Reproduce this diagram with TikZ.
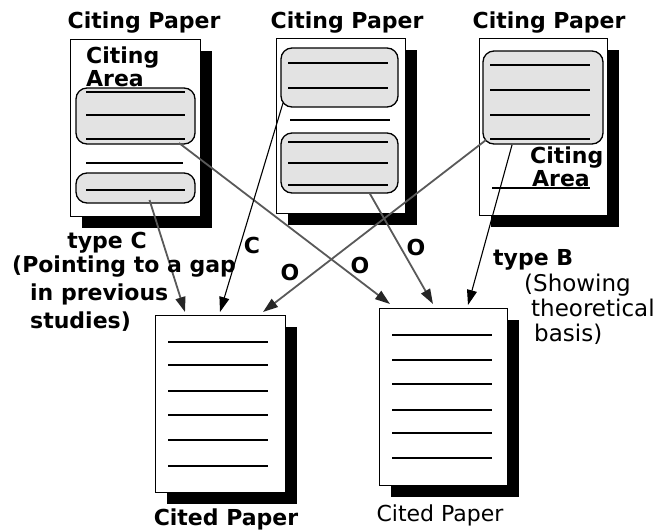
\documentclass[tikz,border=0pt]{standalone}
\usepackage{fontspec}
\setmainfont{DejaVu Sans}
\usetikzlibrary{arrows.meta,shadows}
\begin{document}
\begin{tikzpicture}[x=1pt,y=-1pt,
  paper/.style={draw=black, line width=0.9pt, fill=white, inner sep=0pt, outer sep=0pt,
    general shadow={fill=black, shadow xshift=12pt, shadow yshift=-12pt}},
  cbox/.style={draw=black, line width=1.3pt, fill=gray!22, rounded corners=11pt, inner sep=0pt, outer sep=0pt},
  tl/.style={line width=1.5pt},
  lbl/.style={inner sep=0pt, font=\bfseries\fontsize{22}{26}\selectfont},
  rlbl/.style={inner sep=0pt, font=\fontsize{23}{27}\selectfont},
  garrow/.style={draw=black!65, line width=1.8pt, -{Triangle[length=15pt,width=10pt,color=black!85]}},
  barrow/.style={draw=black, line width=1.1pt, -{Triangle[length=15pt,width=10pt]}},
]
\useasboundingbox (0,0) rectangle (657,531);

% ---------- titles ----------
\node[lbl, anchor=base] (t1) at (144,28) {Citing Paper};
\node[lbl, anchor=base] (t2) at (347,28) {Citing Paper};
\node[lbl, anchor=base] (t3) at (549,28) {Citing Paper};

% ---------- citing paper 1 ----------
\node[paper, minimum width=130pt, minimum height=177pt] (p1) at (135,127.5) {};
\node[lbl, anchor=base west] (p1c) at (86,63) {Citing};
\node[lbl, anchor=base west] (p1a) at (86,86) {Area};
\node[cbox, minimum width=119pt, minimum height=56pt] (b11) at (135.5,116) {};
\draw[tl] (86,92) -- (185,92);
\draw[tl] (86,115) -- (185,115);
\draw[tl] (86,139) -- (185,139);
\draw[tl] (86,163) -- (183,163);
\node[cbox, minimum width=119pt, minimum height=30pt] (b12) at (135.5,188) {};
\draw[tl] (86,190) -- (185,190);

% ---------- citing paper 2 ----------
\node[paper, minimum width=129pt, minimum height=175pt] (p2) at (340.5,125.5) {};
\node[cbox, minimum width=117pt, minimum height=59pt] (b21) at (339.5,77.5) {};
\draw[tl] (288,63) -- (388,63);
\draw[tl] (288,88) -- (388,88);
\draw[tl] (290,120) -- (390,120);
\node[cbox, minimum width=117pt, minimum height=60pt] (b22) at (339.5,163) {};
\draw[tl] (288,142) -- (388,142);
\draw[tl] (288,163) -- (388,163);
\draw[tl] (288,185) -- (388,185);

% ---------- citing paper 3 ----------
\node[paper, minimum width=128pt, minimum height=177pt] (p3) at (543,126.5) {};
\node[cbox, minimum width=120pt, minimum height=93pt] (b31) at (543,97.5) {};
\draw[tl] (490,65) -- (590,65);
\draw[tl] (490,90) -- (590,90);
\draw[tl] (490,115) -- (590,115);
\draw[tl] (490,139) -- (590,139);
\node[lbl, anchor=base west] (p3c) at (530,163) {Citing};
\node[lbl, anchor=base west] (p3a) at (532,186) {Area};
\draw[tl] (492,188) -- (590,188);

% ---------- cited paper 1 ----------
\node[paper, minimum width=130pt, minimum height=177pt] (c1) at (220,403.5) {};
\foreach \yy in {342,365,391,415,440,466} \draw[tl] (168,\yy) -- (268,\yy);
\node[lbl, anchor=base] (c1l) at (226,525) {Cited Paper};

% ---------- cited paper 2 ----------
\node[paper, minimum width=128pt, minimum height=177pt] (c2) at (443,396.5) {};
\foreach \yy in {335,360,384,410,433,458} \draw[tl] (392,\yy) -- (492,\yy);
\node[inner sep=0pt, font=\fontsize{22}{26}\selectfont, anchor=base] (c2l) at (440,521) {Cited Paper};

% ---------- connector end points ----------
\coordinate (sa) at ([shift={(14,-3)}]b12.south);
\coordinate (sb) at ([shift={(2,-4)}]b21.south west);
\coordinate (sc) at ([shift={(3,-4)}]b31.south west);
\coordinate (sd) at ([shift={(-16,-1)}]b11.south east);
\coordinate (se) at ([shift={(30,0)}]b22.south);
\coordinate (sf) at ([shift={(-31,1)}]b31.south);
\coordinate (ea) at ([shift={(-35,-3)}]c1.north);
\coordinate (eb) at ([shift={(0,-3)}]c1.north);
\coordinate (ec) at ([shift={(43,-3)}]c1.north);
\coordinate (ed) at ([shift={(-53,-4)}]c2.north);
\coordinate (ee) at ([shift={(-10,-4)}]c2.north);
\coordinate (ef) at ([shift={(25,-3)}]c2.north);

% ---------- connectors ----------
\draw[garrow] (sd) -- (ed);
\draw[garrow] (sc) -- (ec);
\draw[garrow] (se) -- (ee);
\draw[garrow] (sa) -- (ea);
\draw[barrow] (sb) -- (eb);
\draw[barrow] (sf) -- (ef);

% ---------- connector labels ----------
\node[lbl] (lc) at (252,245) {C};
\node[lbl] (lo1) at (290,272) {O};
\node[lbl] (lo2) at (360,265) {O};
\node[lbl] (lo3) at (416,247) {O};

% ---------- type labels ----------
\node[lbl, anchor=base] (tc1) at (107,248) {type C};
\node[lbl, anchor=base west] (tc2) at (12,272) {(Pointing to a gap};
\node[lbl, anchor=base west] (tc3) at (30,300) {in previous};
\node[lbl, anchor=base west] (tc4) at (30,328) {studies)};

\node[lbl, anchor=base west] (tb1) at (493,265) {type B};
\node[rlbl, anchor=base west] (tb2) at (524,291) {(Showing};
\node[rlbl, anchor=base west] (tb3) at (531,316) {theoretical};
\node[rlbl, anchor=base west] (tb4) at (534,341) {basis)};
\end{tikzpicture}
\end{document}
